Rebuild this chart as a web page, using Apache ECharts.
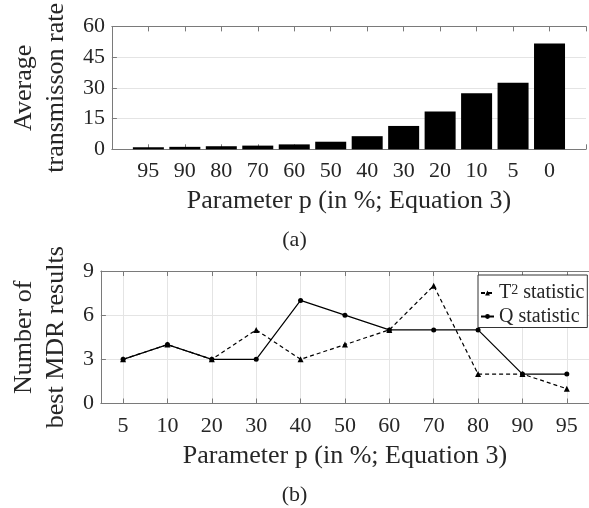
<!DOCTYPE html>
<html>
<head>
<meta charset="utf-8">
<script src="https://cdn.jsdelivr.net/npm/echarts@6/dist/echarts.min.js"></script>
<style>
html,body{margin:0;padding:0;background:#fff;}
#chart{width:589px;height:508px;}
</style>
</head>
<body>
<div id="chart"></div>
<script>
// ---- data ----
const categoriesA = ['95','90','80','70','60','50','40','30','20','10','5','0'];
const rateA = [1.0, 1.2, 1.5, 1.8, 2.4, 3.7, 6.4, 11.4, 18.4, 27.3, 32.5, 51.7];
const yRangeA = [0, 60, 15];

const categoriesB = ['5','10','20','30','40','50','60','70','80','90','95'];
const t2B = [3, 4, 3, 5, 3, 4, 5, 8, 2, 2, 1];
const qB  = [3, 4, 3, 3, 7, 6, 5, 5, 5, 2, 2];
const yRangeB = [0, 9, 3];

const xNameA = 'Parameter p (in %; Equation 3)';
const xNameB = 'Parameter p (in %; Equation 3)';
const yNameA = 'Average\ntransmisson rate';
const yNameB = 'Number of\nbest MDR results';

// ---- style ----
const FONT = 'Liberation Serif';
const AX = '#7a7a7a';
const TXT = '#262626';
const GRID = '#e4e4e4';

const chart = echarts.init(document.getElementById('chart'), null, {renderer: 'canvas'});

const tickStyle = {show: true, inside: true, length: 5, lineStyle: {color: AX, width: 1}};
const lblStyle = {color: TXT, fontFamily: FONT, fontSize: 22};
const nameStyleX = {color: TXT, fontFamily: FONT, fontSize: 26};
const nameStyleY = {color: TXT, fontFamily: FONT, fontSize: 26, lineHeight: 32};

const option = {
  animation: false,
  backgroundColor: '#fff',
  title: [
    {text: '(a)', left: 'center', top: 224, textStyle: {color: TXT, fontFamily: FONT, fontSize: 22, fontWeight: 'normal'}},
    {text: '(b)', left: 'center', top: 479, textStyle: {color: TXT, fontFamily: FONT, fontSize: 22, fontWeight: 'normal'}}
  ],
  grid: [
    {left: 93, top: 16, width: 498, height: 133.3},
    {left: 93, top: 271, width: 499, height: 132.5}
  ],
  legend: {
    data: ['T2 statistic', 'Q statistic'],
    orient: 'vertical',
    left: 478, top: 275,
    backgroundColor: '#fff',
    borderColor: '#333',
    borderWidth: 1,
    borderRadius: 0,
    padding: [8, 3, 1, 2],
    itemGap: 3.5,
    itemWidth: 13,
    itemHeight: 6,
    textStyle: {
      color: TXT, fontFamily: FONT, fontSize: 20, lineHeight: 20,
      rich: {
        t: {fontFamily: FONT, fontSize: 20, lineHeight: 20, color: TXT},
        sup: {fontFamily: FONT, fontSize: 14, lineHeight: 10, verticalAlign: 'top', color: TXT}
      }
    },
    formatter: function (name) {
      if (name === 'T2 statistic') return '{t|T}{sup|2}{t| statistic}';
      return '{t|' + name + '}';
    }
  },
  xAxis: [
    {
      gridIndex: 0, type: 'value', position: 'bottom',
      min: 0, max: categoriesA.length + 1, interval: 1,
      axisLine: {show: true, lineStyle: {color: AX, width: 1}},
      axisTick: tickStyle,
      splitLine: {show: false},
      axisLabel: Object.assign({margin: 11, showMinLabel: true, showMaxLabel: true,
        formatter: function (v) { return categoriesA[v - 1] !== undefined ? categoriesA[v - 1] : ''; }}, lblStyle),
      name: xNameA, nameLocation: 'middle', nameGap: 39, nameTextStyle: nameStyleX
    },
    {
      gridIndex: 0, type: 'value', position: 'top',
      min: 0, max: categoriesA.length + 1, interval: 1,
      axisLine: {show: true, lineStyle: {color: AX, width: 1}},
      axisTick: tickStyle,
      splitLine: {show: false},
      axisLabel: {show: false}
    },
    {
      gridIndex: 1, type: 'category', position: 'bottom', data: categoriesB,
      boundaryGap: true,
      axisLine: {show: true, lineStyle: {color: AX, width: 1}},
      axisTick: Object.assign({alignWithLabel: true}, tickStyle),
      splitLine: {show: true, alignWithLabel: true, lineStyle: {color: GRID, width: 1}},
      axisLabel: Object.assign({margin: 12, interval: 0}, lblStyle),
      name: xNameB, nameLocation: 'middle', nameGap: 40, nameTextStyle: nameStyleX
    },
    {
      gridIndex: 1, type: 'category', position: 'top', data: categoriesB,
      boundaryGap: true,
      axisLine: {show: true, lineStyle: {color: AX, width: 1}},
      axisTick: Object.assign({alignWithLabel: true}, tickStyle),
      splitLine: {show: false},
      axisLabel: {show: false}
    }
  ],
  yAxis: [
    {
      gridIndex: 0, type: 'value', min: yRangeA[0], max: yRangeA[1], interval: yRangeA[2],
      axisLine: {show: true, lineStyle: {color: AX, width: 1}},
      axisTick: tickStyle,
      splitLine: {show: true, lineStyle: {color: GRID, width: 1}},
      axisLabel: Object.assign({margin: 7}, lblStyle),
      name: yNameA, nameLocation: 'middle', nameGap: 26, nameRotate: 90, nameTextStyle: nameStyleY
    },
    {
      gridIndex: 1, type: 'value', min: yRangeB[0], max: yRangeB[1], interval: yRangeB[2],
      axisLine: {show: true, lineStyle: {color: AX, width: 1}},
      axisTick: tickStyle,
      splitLine: {show: true, lineStyle: {color: GRID, width: 1}},
      axisLabel: Object.assign({margin: 7}, lblStyle),
      name: yNameB, nameLocation: 'middle', nameGap: 26, nameRotate: 90, nameTextStyle: nameStyleY
    }
  ],
  series: [
    {
      type: 'bar', xAxisIndex: 0, yAxisIndex: 0,
      data: rateA.map(function (v, i) { return [i + 1, v]; }),
      barWidth: 31,
      itemStyle: {color: '#000'}
    },
    {
      name: 'T2 statistic', type: 'line', xAxisIndex: 2, yAxisIndex: 1,
      data: t2B,
      symbol: 'triangle', symbolSize: 6,
      lineStyle: {color: '#000', width: 1.2, type: [4, 3]},
      itemStyle: {color: '#000'},
      z: 3
    },
    {
      name: 'Q statistic', type: 'line', xAxisIndex: 2, yAxisIndex: 1,
      data: qB,
      symbol: 'circle', symbolSize: 5,
      lineStyle: {color: '#000', width: 1.2, type: 'solid'},
      itemStyle: {color: '#000'},
      z: 4
    }
  ]
};
chart.setOption(option);
</script>
</body>
</html>
